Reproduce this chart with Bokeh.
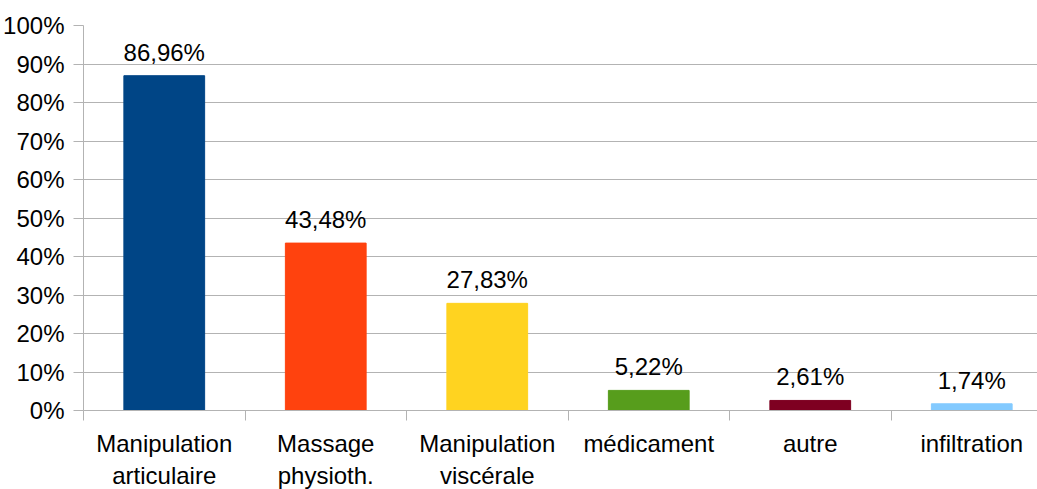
from bokeh.plotting import figure
from bokeh.models import Range1d, FixedTicker, PrintfTickFormatter, ColumnDataSource
from bokeh.core.properties import value
from bokeh.embed import file_html
from bokeh.resources import INLINE

categories = ["Manipulation\narticulaire", "Massage\nphysioth.", "Manipulation\nviscérale",
              "médicament", "autre", "infiltration"]
values = [86.96, 43.48, 27.83, 5.22, 2.61, 1.74]
colors = ["#004586", "#FF420E", "#FFD320", "#579D1C", "#7E0021", "#83CAFF"]
y_ticks = [0, 10, 20, 30, 40, 50, 60, 70, 80, 90, 100]

FONT = "Liberation Sans"
GRID = "#b3b3b3"

centers = [i + 0.5 for i in range(len(categories))]
bounds = list(range(len(categories) + 1))
labels = [("%.2f%%" % v).replace(".", ",") for v in values]

src = ColumnDataSource(dict(x=centers, top=values, color=colors, label=labels))

p = figure(frame_width=955, frame_height=385,
           x_range=Range1d(0, 955 / 161.5), y_range=Range1d(0, 100),
           output_backend="svg", toolbar_location=None,
           min_border_top=25, min_border_right=0, min_border_left=82, min_border_bottom=79)

p.vbar(x="x", top="top", width=0.5, bottom=0, color="color", source=src)
p.text(x="x", y="top", text="label", source=src, text_align="center", text_baseline="bottom",
       y_offset=-10, text_font=value(FONT), text_font_size="24px", text_color="black")

p.outline_line_color = None
p.xgrid.grid_line_color = None
p.ygrid.grid_line_color = GRID
p.ygrid.ticker = FixedTicker(ticks=y_ticks)

ya = p.yaxis[0]
ya.ticker = FixedTicker(ticks=y_ticks)
ya.formatter = PrintfTickFormatter(format="%d%%")
ya.axis_line_color = GRID
ya.major_tick_line_color = GRID
ya.major_tick_out = 10
ya.major_tick_in = 0
ya.minor_tick_line_color = None
ya.major_label_standoff = 9
ya.major_label_text_font = FONT
ya.major_label_text_font_size = "24px"
ya.major_label_text_color = "black"

xa = p.xaxis[0]
xa.ticker = FixedTicker(ticks=centers, minor_ticks=bounds)
xa.major_label_overrides = {c: lab for c, lab in zip(centers, categories)}
xa.axis_line_color = GRID
xa.major_tick_line_color = None
xa.major_tick_out = 0
xa.major_tick_in = 0
xa.minor_tick_line_color = GRID
xa.minor_tick_out = 10
xa.minor_tick_in = 0
xa.major_label_standoff = 9
xa.major_label_text_font = FONT
xa.major_label_text_font_size = "24px"
xa.major_label_text_color = "black"

open("out.html", "w").write(file_html(p, INLINE))
